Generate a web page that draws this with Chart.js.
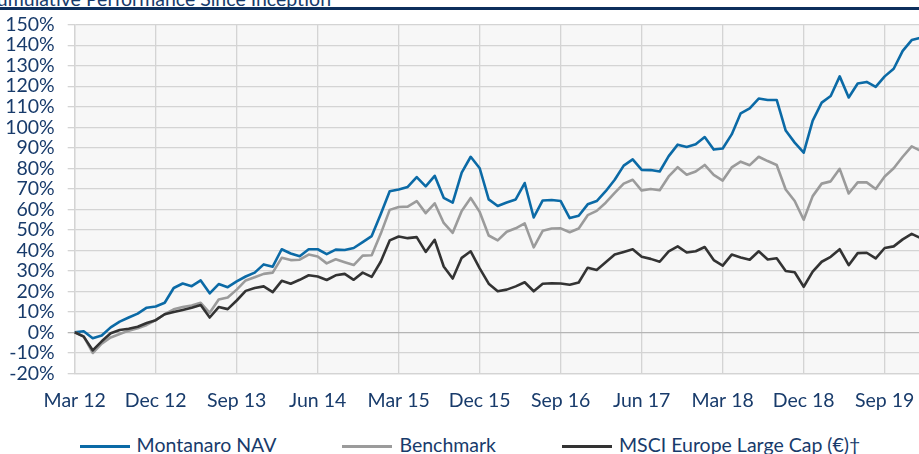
<!DOCTYPE html>
<html>
<head>
<meta charset="utf-8">
<script src="https://cdn.jsdelivr.net/npm/chart.js@4/dist/chart.umd.min.js"></script>
<style>
  html, body { margin: 0; padding: 0; background: #fff; overflow: hidden; }
  body { width: 919px; height: 454px; position: relative; font-family: Lato, "Noto Sans", sans-serif; }
  #wrap { position: absolute; left: 0; top: 0; width: 940px; height: 420px; }
  #title { position: absolute; left: -16px; top: -13px; font-size: 19.5px; color: #183b6b; white-space: nowrap; }
  #rule { position: absolute; left: 0; top: 7px; width: 940px; height: 3px; background: #0d2f5c; }
  #legend { position: absolute; left: 0; top: 433px; width: 940px; text-align: center; font-size: 19.5px; color: #183b6b; white-space: nowrap; line-height: 23px; }
  #legend .item { display: inline-block; margin: 0 33px; }
  #legend .swatch { display: inline-block; width: 50px; height: 3px; vertical-align: middle; margin-right: 7px; position: relative; top: -1px; }
</style>
</head>
<body>
<div id="title">Cumulative Performance Since Inception</div>
<div id="rule"></div>
<div id="wrap"><canvas id="chart"></canvas></div>
<div id="legend"></div>
<script>
// monthly, Mar 12 onwards (last few months of axis carry no data)
const months = [
  "Mar 12","Apr 12","May 12","Jun 12","Jul 12","Aug 12","Sep 12","Oct 12","Nov 12","Dec 12",
  "Jan 13","Feb 13","Mar 13","Apr 13","May 13","Jun 13","Jul 13","Aug 13","Sep 13","Oct 13","Nov 13","Dec 13",
  "Jan 14","Feb 14","Mar 14","Apr 14","May 14","Jun 14","Jul 14","Aug 14","Sep 14","Oct 14","Nov 14","Dec 14",
  "Jan 15","Feb 15","Mar 15","Apr 15","May 15","Jun 15","Jul 15","Aug 15","Sep 15","Oct 15","Nov 15","Dec 15",
  "Jan 16","Feb 16","Mar 16","Apr 16","May 16","Jun 16","Jul 16","Aug 16","Sep 16","Oct 16","Nov 16","Dec 16",
  "Jan 17","Feb 17","Mar 17","Apr 17","May 17","Jun 17","Jul 17","Aug 17","Sep 17","Oct 17","Nov 17","Dec 17",
  "Jan 18","Feb 18","Mar 18","Apr 18","May 18","Jun 18","Jul 18","Aug 18","Sep 18","Oct 18","Nov 18","Dec 18",
  "Jan 19","Feb 19","Mar 19","Apr 19","May 19","Jun 19","Jul 19","Aug 19","Sep 19","Oct 19","Nov 19","Dec 19",
  "Jan 20","Feb 20","Mar 20"
];

const tickLabels = ["Mar 12","Dec 12","Sep 13","Jun 14","Mar 15","Dec 15","Sep 16","Jun 17","Mar 18","Dec 18","Sep 19"];

const seriesNames = ["Montanaro NAV", "Benchmark", "MSCI Europe Large Cap (€)†"];
const seriesColors = ["#0b6aa6", "#9b9b9b", "#333333"];

const navValues = [
  0, 0.5, -2.9, -1.6, 2.4, 5.2, 7.2, 9.1, 12, 12.6, 14.4, 21.6, 23.8, 22.5, 25.3, 19,
  23.5, 22, 24.8, 27.2, 29.1, 33.1, 32, 40.5, 38.4, 37.1, 40.5, 40.5, 38.1, 40.3, 40.1, 41.1,
  44, 46.9, 57.6, 68.8, 69.6, 70.9, 75.7, 71.2, 76.3, 65.6, 63.2, 77.9, 85.6, 80, 64.8, 61.6,
  63.3, 64.8, 72.8, 56, 64.3, 64.5, 64, 55.7, 56.8, 62.4, 64, 68.8, 74.4, 81.3, 84.3, 79.2,
  79.1, 78.4, 85.9, 91.5, 90.4, 91.7, 95.2, 89.1, 89.6, 96.5, 106.8, 109.2, 114, 113.3, 113.3, 98.4,
  92.5, 87.6, 103.2, 112, 115.2, 124.8, 114.5, 121.3, 122.1, 119.7, 124.8, 128.5, 137.2, 142.5, 143.6
];

const benchValues = [
  0, -2, -10.1, -5.5, -2.5, -0.8, 0.8, 2, 3.6, 5.9, 8.8, 11.2, 12.3, 13.1, 14.4, 9.5,
  16, 17, 20.8, 25.3, 26.8, 28.5, 29.1, 36.3, 35.2, 35.4, 37.9, 37, 33.6, 35.6, 34.2, 32.8,
  37.4, 37.6, 48, 59.7, 61.1, 61.3, 64, 58.1, 62.9, 53.3, 48.5, 59.2, 65.5, 58.7, 47.2, 44.8,
  49, 50.7, 53.1, 41.4, 49.5, 50.6, 50.7, 48.8, 50.6, 57.1, 59.2, 63.2, 68, 72.5, 74.4, 69.1,
  69.9, 69.3, 76, 80.5, 76.8, 78.4, 81.6, 76.8, 74, 80.4, 83.2, 81.5, 85.6, 83.5, 81.6, 69.6,
  64, 54.9, 66.4, 72.5, 73.6, 79.7, 67.7, 73.1, 73.1, 69.9, 76, 80, 85.6, 90.7, 88.5
];

const msciValues = [
  0, -2.1, -8.8, -4.4, -0.5, 1.1, 1.7, 2.7, 4.5, 5.9, 8.8, 9.9, 10.9, 12, 13.3, 7.2,
  12.3, 11.3, 15.5, 20.2, 21.6, 22.4, 19.6, 25.1, 23.7, 25.6, 27.8, 27.2, 25.5, 27.8, 28.5, 25.6,
  29.1, 27, 34.4, 44.8, 46.7, 45.9, 46.4, 39.2, 45.1, 32.1, 26.2, 36.3, 39.5, 31.2, 23.7, 20,
  20.8, 22.4, 24.4, 20, 23.7, 23.9, 23.8, 23.2, 24.3, 31.5, 30.4, 34.1, 37.9, 39.2, 40.5, 36.8,
  35.8, 34.4, 39.5, 41.9, 38.9, 39.5, 41.6, 35.2, 32.5, 37.9, 36.5, 35.4, 39.5, 35.5, 36.1, 29.9,
  29.3, 22.2, 29.6, 34.4, 36.8, 40.5, 32.7, 38.6, 38.8, 36, 41.1, 41.9, 45.3, 48, 45.9
];

const textColor = "#183b6b";
const gridColor = "#d4d4d4";

// light grey plot background
const plotBg = {
  id: "plotBg",
  beforeDraw(chart) {
    const a = chart.chartArea;
    const ctx = chart.ctx;
    ctx.save();
    ctx.fillStyle = "#f7f7f7";
    ctx.fillRect(a.left, a.top, a.right - a.left, a.bottom - a.top);
    ctx.restore();
  }
};

const allValues = [navValues, benchValues, msciValues];

new Chart(document.getElementById("chart"), {
  type: "line",
  data: {
    labels: months,
    datasets: allValues.map((vals, i) => ({
      label: seriesNames[i],
      data: vals,
      borderColor: seriesColors[i],
      backgroundColor: seriesColors[i],
      borderWidth: 2.6,
      pointRadius: 0,
      tension: 0,
      borderJoinStyle: "round",
      order: 3 - i
    }))
  },
  options: {
    responsive: true,
    maintainAspectRatio: false,
    animation: false,
    layout: { padding: { top: 19.3, right: 1.3, left: 0, bottom: 0 } },
    plugins: {
      legend: { display: false },
      tooltip: { enabled: false }
    },
    scales: {
      x: {
        type: "category",
        offset: false,
        grid: { color: gridColor, lineWidth: 1.3, drawTicks: false },
        border: { color: gridColor, width: 1.3 },
        ticks: {
          autoSkip: false,
          maxRotation: 0,
          padding: 16,
          color: textColor,
          font: { family: "Lato", size: 19.5 },
          callback: function (v) {
            const l = this.getLabelForValue(v);
            return tickLabels.includes(l) ? l : null;
          }
        },
        afterFit(axis) { axis.height = 46.7; }
      },
      y: {
        min: -20,
        max: 150,
        grid: {
          color: ctx => ctx.tick && ctx.tick.value === 0 ? "#b5b5b5" : gridColor,
          lineWidth: 1.3,
          tickLength: 7
        },
        border: { color: gridColor, width: 1.3 },
        ticks: {
          stepSize: 10,
          autoSkip: false,
          padding: 13,
          color: textColor,
          font: { family: "Lato", size: 19.5 },
          callback: v => v + "%"
        },
        afterFit(axis) { axis.width = 74.7; }
      }
    }
  },
  plugins: [plotBg]
});

// legend as plain html
const legend = document.getElementById("legend");
seriesNames.forEach((name, i) => {
  const item = document.createElement("span");
  item.className = "item";
  const sw = document.createElement("span");
  sw.className = "swatch";
  sw.style.background = seriesColors[i];
  item.appendChild(sw);
  item.appendChild(document.createTextNode(name));
  legend.appendChild(item);
});
</script>
</body>
</html>
